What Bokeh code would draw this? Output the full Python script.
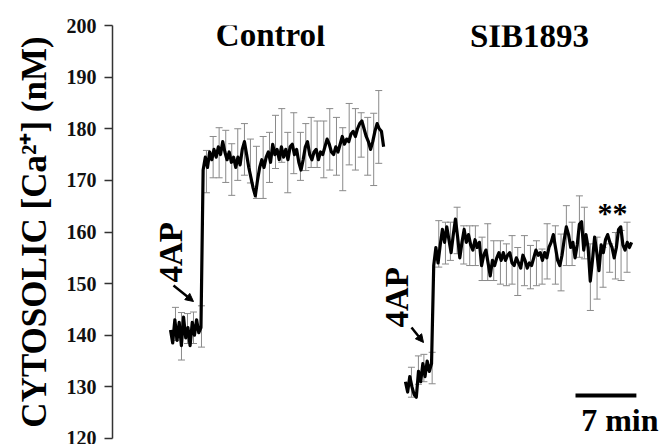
import math
import numpy as np
from bokeh.plotting import figure
from bokeh.models import Range1d, Label, Arrow, NormalHead, FixedTicker, ColumnDataSource
from bokeh.embed import file_html
from bokeh.resources import INLINE

# ---------------- data ----------------
SAMPLE_STEP = 0.25          # minutes between samples
control_start = 6.67        # min
control_ca = [141.0, 138.5, 143.0, 139.0, 142.5, 138.0, 143.5, 139.5, 141.5, 138.0, 142.5, 140.0, 143.0, 140.5, 141.5,
              172.0, 174.5, 172.5, 175.5, 174.0, 176.0, 174.5, 176.5, 175.0, 177.5, 175.5, 174.0, 175.5, 173.5, 174.5,
              172.5, 174.5, 173.0, 176.0, 177.5, 175.0, 172.5, 170.5, 168.5, 167.0, 170.0, 172.5, 174.0, 172.5, 174.5,
              175.5, 173.5, 177.0, 175.0, 176.0, 174.0, 176.5, 174.5, 176.0, 174.0, 176.5, 177.0, 175.0, 176.0, 173.5,
              172.0, 174.0, 176.5, 177.5, 175.0, 174.0, 175.5, 176.0, 174.0, 175.5, 175.0, 176.5, 178.0, 177.0, 175.5,
              175.0, 176.5, 175.5, 177.0, 178.5, 177.0, 178.0, 177.5, 179.0, 179.5, 178.5, 180.0, 181.0, 181.5, 180.0,
              178.5, 177.5, 176.0, 177.5, 179.5, 181.0, 180.0, 179.5, 176.5]

sib_start = 33.68           # min
sib_ca = [131.0, 129.0, 132.0, 130.0, 128.5, 128.0, 133.0, 131.0, 134.5, 132.0, 135.0, 133.0, 134.5,
          153.5, 157.0, 154.0, 157.5, 160.5, 158.0, 161.0, 158.5, 156.0, 159.5, 162.5, 159.0, 155.0, 158.0, 160.5,
          158.0, 159.5, 157.5, 156.5, 158.5, 157.0, 158.0, 153.5, 155.5, 156.5, 154.0, 151.5, 154.5, 153.5, 155.0,
          156.0, 154.5, 156.0, 154.5, 155.5, 156.0, 154.0, 153.5, 155.0, 154.0, 153.0, 155.5, 154.5, 153.0, 154.0,
          153.5, 155.0, 156.5, 155.5, 156.0, 154.5, 156.0, 155.0, 157.0, 158.0, 159.5, 157.0, 154.5, 153.5, 155.5,
          158.5, 161.0, 159.5, 157.0, 158.0, 155.0, 157.5, 161.5, 162.0, 156.5, 159.5, 157.0, 150.5, 154.5, 159.0,
          156.0, 152.5, 157.5, 156.0, 158.5, 159.5, 158.0, 157.0, 155.0, 157.0, 160.5, 161.0, 157.5, 156.5, 158.0,
          157.0, 158.0]

control_err_t = [7.24, 7.93, 8.62, 9.31, 10.23,
                 10.80, 11.57, 12.26, 13.02, 13.71, 14.40, 15.17, 15.86, 16.55, 17.32,
                 18.05, 18.74, 19.46, 20.15, 20.84, 21.61, 22.22, 22.84, 23.53, 24.29,
                 24.98, 25.75, 26.47, 27.21, 27.93, 28.59, 29.34, 30.03, 30.61]
control_err_hi = [145.4, 144.4, 144.2, 144.5, 145.7,
                  175.8, 178.5, 180.2, 179.7, 177.1, 180.0, 181.0, 178.0, 176.6, 178.5,
                  179.3, 182.6, 183.9, 179.3, 183.1, 179.3, 181.0, 182.2, 181.5, 181.5,
                  183.9, 182.2, 180.2, 184.9, 183.9, 183.1, 182.2, 183.0, 187.4]
control_err_lo = [139.0, 135.2, 138.4, 138.4, 137.7,
                  167.6, 170.5, 170.5, 169.6, 167.1, 170.0, 171.0, 169.5, 166.5, 166.5,
                  169.6, 172.3, 173.5, 167.6, 171.3, 170.0, 171.9, 172.5, 172.5, 170.5,
                  172.0, 171.0, 168.0, 173.0, 172.0, 174.5, 171.0, 169.0, 173.3]

sib_err_t = [34.37, 35.17, 35.80, 36.75,
             37.51, 38.28, 38.85, 39.62, 40.38, 41.07, 41.72, 42.49, 43.14, 43.83,
             44.60, 45.29, 45.94, 46.59, 47.36, 48.05, 48.74, 49.39, 49.97, 50.92,
             51.57, 52.18, 52.84, 53.68, 54.25, 54.94, 55.71, 56.40, 57.16, 57.82, 58.47, 59.16]
sib_err_hi = [133.8, 136.0, 136.3, 136.7,
              162.2, 161.9, 161.9, 164.8, 161.2, 161.2, 161.2, 159.0, 161.6, 158.3,
              158.3, 157.7, 159.3, 157.0, 159.3, 157.4, 158.3, 156.7, 161.6, 161.2,
              159.6, 165.1, 161.9, 167.0, 164.8, 157.7, 159.0, 157.0, 157.7, 159.9, 160.3, 161.9]
sib_err_lo = [128.0, 130.5, 131.0, 130.6,
              153.2, 153.8, 154.5, 155.8, 153.8, 153.5, 153.5, 150.6, 150.6, 150.6,
              149.9, 149.6, 149.9, 147.7, 149.6, 149.0, 149.6, 149.9, 150.9, 149.9,
              148.6, 153.5, 153.5, 155.1, 154.8, 144.8, 147.0, 149.3, 152.2, 150.9, 150.6, 152.2]

y_ticks = [120, 130, 140, 150, 160, 170, 180, 190, 200]
y_title = "CYTOSOLIC [Ca²⁺] (nM)"
scale_bar_minutes = 7
panel_titles = ["Control", "SIB1893"]
stim_label = "4AP"
signif_label = "**"

# ---------------- layout helpers (canvas pixels -> data) ----------------
W, H = 661, 444
FRAME_LEFT, FRAME_TOP, FRAME_BOTTOM = 112, 25, 6
PPM = 8.698                      # pixels per minute
X_END = (W - FRAME_LEFT) / PPM
PPU = (H - FRAME_TOP - FRAME_BOTTOM) / (y_ticks[-1] - y_ticks[0])

def px(xp):
    return (xp - FRAME_LEFT) / PPM

def py(yp):
    return y_ticks[-1] - (yp - FRAME_TOP) / PPU

FONT = "Liberation Serif"
GRAY = "#8a8a8a"

p = figure(width=W, height=H, output_backend="svg", toolbar_location=None,
           x_range=Range1d(0, X_END), y_range=Range1d(y_ticks[0], y_ticks[-1]),
           x_axis_location=None,
           min_border_left=FRAME_LEFT, min_border_right=0,
           min_border_top=FRAME_TOP, min_border_bottom=FRAME_BOTTOM)
p.outline_line_color = None
p.grid.visible = False
p.background_fill_color = "white"

ax = p.yaxis[0]
ax.ticker = FixedTicker(ticks=y_ticks, minor_ticks=[])
ax.major_tick_out = 8
ax.major_tick_in = 0
ax.minor_tick_out = 0
ax.minor_tick_in = 0
ax.axis_line_width = 1.5
ax.axis_line_color = "#333333"
ax.major_tick_line_width = 1.5
ax.major_tick_line_color = "#333333"
ax.major_label_standoff = 8
ax.major_label_text_font = FONT
ax.major_label_text_font_style = "bold"
ax.major_label_text_font_size = "20px"
ax.major_label_text_color = "#111111"
ax.axis_label = y_title
ax.axis_label_text_font = FONT
ax.axis_label_text_font_style = "bold"
ax.axis_label_text_font_size = "35px"
ax.axis_label_text_color = "black"
ax.axis_label_standoff = 10

# ---------------- error bars ----------------
for et, ehi, elo in [(control_err_t, control_err_hi, control_err_lo),
                     (sib_err_t, sib_err_hi, sib_err_lo)]:
    src = ColumnDataSource(dict(t=et, hi=ehi, lo=elo))
    p.segment(x0="t", x1="t", y0="lo", y1="hi", source=src, line_color=GRAY, line_width=1)
    p.scatter(x="t", y="hi", source=src, marker="dash", size=7, line_color=GRAY, line_width=1)
    p.scatter(x="t", y="lo", source=src, marker="dash", size=7, line_color=GRAY, line_width=1)

# ---------------- traces ----------------
for start, vals in [(control_start, control_ca), (sib_start, sib_ca)]:
    t = start + SAMPLE_STEP * np.arange(len(vals))
    p.line(t, vals, line_color="black", line_width=3.2, line_join="round")

# ---------------- annotations ----------------
def add_label(x, y, text, size, align="left", angle=0.0, baseline="alphabetic"):
    p.add_layout(Label(x=x, y=y, text=text, text_font=FONT, text_font_style="bold",
                       text_font_size=f"{size}px", text_align=align, text_baseline=baseline,
                       angle=angle, text_color="black"))

add_label(px(270), py(34), panel_titles[0], 33, align="center")
add_label(px(529), py(35), panel_titles[1], 33, align="center")

add_label(px(170), py(282), stim_label, 33, angle=math.pi / 2)
add_label(px(396), py(327), stim_label, 33, angle=math.pi / 2)

for (x0, y0, x1, y1) in [(173, 285, 193, 301), (411, 327, 423, 342)]:
    p.add_layout(Arrow(end=NormalHead(size=8, fill_color="black", line_color="black"),
                       x_start=px(x0), y_start=py(y0), x_end=px(x1), y_end=py(y1),
                       line_width=2.5, line_color="black"))

add_label(px(612), py(212), signif_label, 30, align="center")

bar_start = px(575)
p.segment(x0=[bar_start], x1=[bar_start + scale_bar_minutes], y0=[py(395)], y1=[py(395)],
          line_color="black", line_width=4)
add_label(px(658), py(419), f"{scale_bar_minutes} min", 32, align="right")

open("out.html", "w").write(file_html(p, INLINE))
